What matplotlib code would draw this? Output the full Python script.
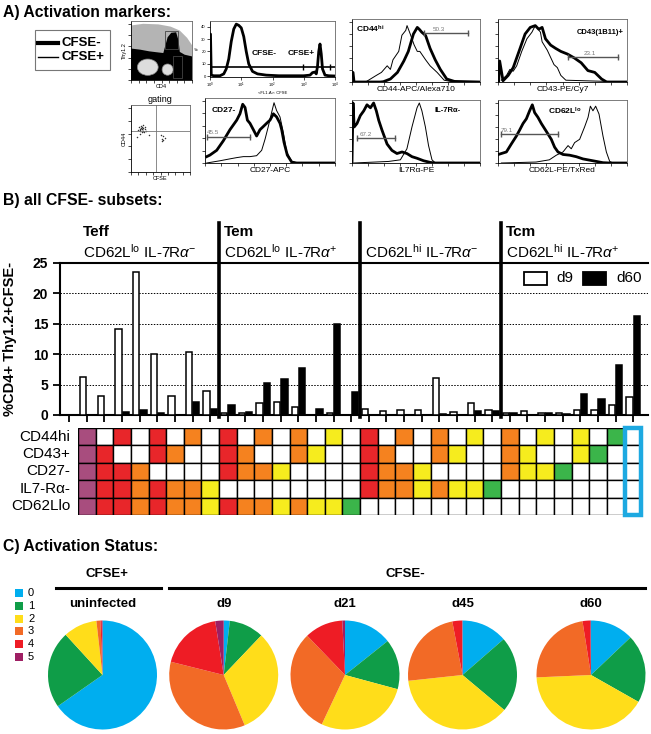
import matplotlib.pyplot as plt
import numpy as np
from matplotlib.patches import Ellipse, Polygon, Rectangle

plt.rcParams["font.family"] = ["Liberation Sans", "DejaVu Sans"]
plt.rcParams["mathtext.fontset"] = "custom"
plt.rcParams["mathtext.rm"] = "Liberation Sans"
plt.rcParams["mathtext.it"] = "Liberation Sans:italic"
plt.rcParams["mathtext.bf"] = "Liberation Sans:bold"

W, H = 651, 734

# ---- panel A: flow traces, x and y in % of each small panel ----
cfse_x = [0, 0.4, 1, 3, 8, 11, 13, 15, 17, 19, 21, 23, 25, 27, 29, 31, 34, 38, 45,
          55, 65, 75, 80, 82, 84, 85, 86, 87, 88, 89, 90, 92, 95, 100]
cfse_y = [34, 34, 1, 0.5, 0.5, 2, 6, 14, 28, 38, 42, 41, 39, 32, 20, 10, 4, 2, 1,
          0.5, 0.5, 0.5, 1, 3, 3.5, 2, 8, 20, 26, 18, 6, 1, 0.5, 0.3]

thy_dense_x = [0, 0, 15, 30, 45, 53, 56, 60, 66, 74, 78, 80, 88, 100, 100]
thy_dense_y = [0, 56, 54, 51, 49, 48, 60, 76, 84, 85, 70, 50, 45, 42, 0]
thy_sparse_x = [0, 0, 20, 45, 65, 80, 92, 100, 100, 56, 30]
thy_sparse_y = [50, 97, 100, 99, 95, 88, 75, 62, 40, 46, 50]

gating_x = [12, 14, 15, 16, 17, 18, 18, 19, 20, 21, 22, 23, 15, 20, 25, 50, 52, 54, 55, 57, 53, 10, 30,
            16, 19, 21, 17, 24]
gating_y = [66, 70, 64, 68, 72, 63, 67, 70, 65, 69, 62, 67, 60, 74, 64, 58, 52, 56, 50, 54, 48, 55, 58,
            66, 68, 64, 69, 70]

cd44_thin_x = [0, 11, 19, 23, 27.5, 30, 32, 36.5, 39, 42, 43, 45.5, 48.5, 51, 53, 57.5, 61, 66.5, 72, 79.5, 100]
cd44_thin_y = [0, 0.5, 11, 16, 27, 21, 37, 51, 78, 86, 94, 80, 62, 51, 51, 37, 27, 16, 3, 0, 0]
cd44_thick_x = [0, 0.8, 1.6, 22, 24.5, 30, 35.5, 40.5, 44, 48, 51, 52.5, 54.5, 57.5, 61, 65, 69, 74, 80, 100]
cd44_thick_y = [16, 16, 0, 0, 0.5, 5, 16, 35, 51, 80, 91, 88, 83, 77.5, 56, 37, 21, 5, 1, 0]

cd43_thin_x = [2.6, 6.6, 9.2, 11.8, 14.5, 18.4, 22.4, 26.3, 28.9, 32.9, 34.2, 38.2, 43.4, 46, 48.7, 52.6, 100]
cd43_thin_y = [3, 11, 21, 18, 27, 51, 72, 83, 94, 83, 67, 53, 29, 24, 11, 3, 0]
cd43_thick_x = [0.5, 1.3, 3.9, 7.9, 11.8, 17.1, 21, 25, 28.9, 31.6, 34.2, 36.8, 40.8, 44.7, 48.7, 53.9,
                59.2, 64.5, 69.7, 75, 80.3, 84.2, 100]
cd43_thick_y = [0, 35, 2, 11, 24, 56, 80, 91, 94, 88, 91, 72, 61.5, 56, 51, 46.5, 40, 32, 19, 16, 5, 0, 0]

cd27_thick_x = [1.3, 3.8, 9, 14.1, 19.2, 24.4, 26.9, 29, 30.8, 32.6, 34.6, 37.2, 39.7, 42.3, 44.9, 47.4,
                50, 52.6, 55.1, 57.7, 59, 60.8, 63.3, 66.7, 70.5, 100]
cd27_thick_y = [10.3, 12.8, 20.5, 35.9, 53.8, 69.2, 79.5, 94.9, 89.7, 69.2, 64.1, 53.8, 43.6, 53.8, 59, 64.1,
                69.2, 79.5, 74.4, 64.1, 53.8, 33.3, 12.8, 1.5, 0, 0]
cd27_thin_x = [1.3, 11.5, 19.2, 24.4, 29.5, 34.6, 39.7, 43.6, 46.2, 48.7, 51.3, 53.1, 55.1, 57.7, 60.3,
               62.8, 66.7, 70.5, 100]
cd27_thin_y = [0, 3.6, 6.7, 8.7, 10.3, 10.3, 11.8, 20.5, 38.5, 59, 82, 97.4, 84.6, 74.4, 48.7, 18, 2.6, 0, 0]

il7_thick_x = [0, 0.8, 1.7, 3.9, 6.5, 9.2, 11.7, 14.4, 16.9, 19, 20.9, 23.4, 27.4, 31.2, 35.1, 39.1,
               42.9, 46.9, 50.8, 56, 61.2, 65.1, 100]
il7_thick_y = [0, 100, 60, 65.8, 79, 87, 97, 92, 100, 87, 71, 55, 31.6, 21, 15.8, 18.4, 15.8, 10.5, 7.9,
               3.7, 1, 0, 0]
il7_thin_x = [1.3, 28.6, 37.8, 42.9, 46.9, 50.8, 52.6, 54.6, 57.3, 59.8, 62.5, 65.1, 100]
il7_thin_y = [0, 2.6, 5.3, 23.7, 60.5, 92, 100, 87, 60.5, 29, 5.3, 0, 0]

cd62l_thick_x = [0, 2.6, 6.5, 10.3, 14.2, 16.8, 19.4, 22, 24.5, 26.6, 28.4, 31, 33.6, 37.5, 41.3, 43.9,
                 46.5, 50.4, 55.6, 60.7, 65.9, 73.6, 81.4, 86.6, 100]
cd62l_thick_y = [14, 15.8, 18.4, 31.6, 44.7, 55, 65.8, 73.7, 87, 97, 84, 76, 65.8, 52.6, 39.5, 26.3,
                 18.4, 14.2, 13, 10.5, 6.8, 3.7, 0.5, 0, 0]
cd62l_thin_x = [2.6, 29.5, 39.8, 45.2, 50.4, 54.3, 56.8, 59.4, 63.3, 67.2, 69.8, 71.6, 73.6, 75.7,
                78.3, 81.4, 84, 86.6, 89.1, 100]
cd62l_thin_y = [0, 1.6, 5.3, 13, 18.4, 29, 23.7, 34, 39.5, 60.5, 76, 94.7, 87, 94.7, 81.6, 44.7,
                18.4, 2.6, 0, 0]

# ---- panel B: 32 marker combinations, d9 vs d60 ----
d9_values = [6.2, 3.2, 14.2, 23.5, 10.0, 3.2, 10.3, 4.0,
             0.4, 0.4, 1.9, 2.1, 1.3, 0.0, 0.3, 0.0,
             1.0, 0.7, 0.9, 0.9, 6.1, 0.5, 2.0, 0.9,
             0.4, 0.7, 0.3, 0.3, 0.9, 0.9, 1.6, 2.9]
d60_values = [0.0, 0.0, 0.5, 0.8, 0.4, 0.0, 2.2, 1.0,
              1.6, 0.5, 5.2, 5.9, 7.7, 1.0, 15.0, 3.8,
              0.0, 0.0, 0.0, 0.0, 0.1, 0.0, 0.65, 0.6,
              0.3, 0.0, 0.3, 0.2, 3.5, 2.7, 8.2, 16.3]
marker_names = ["CD44hi", "CD43+", "CD27-", "IL7-R\u03b1-", "CD62Llo"]
marker_pattern = [
    "10101010101010101010101010101010",
    "11001100110011001100110011001100",
    "11110000111100001111000011110000",
    "11111111000000001111111100000000",
    "11111111111111110000000000000000",
]
group_names = ["Teff", "Tem", "", "Tcm"]
group_phenotypes = [r"CD62L$^{\rm lo}$ IL-7R$\alpha^{-}$", r"CD62L$^{\rm lo}$ IL-7R$\alpha^{+}$",
                    r"CD62L$^{\rm hi}$ IL-7R$\alpha^{-}$", r"CD62L$^{\rm hi}$ IL-7R$\alpha^{+}$"]

# ---- panel C: number of activation markers ----
activation_levels = ["0", "1", "2", "3", "4", "5"]
pie_titles = ["uninfected", "d9", "d21", "d45", "d60"]
pie_uninfected = [65.3, 22.9, 10.0, 1.2, 0.4, 0.2]
pie_d9 = [1.8, 10.3, 31.6, 35.2, 18.6, 2.5]
pie_d21 = [14.3, 14.9, 27.8, 30.8, 11.4, 0.8]
pie_d45 = [13.6, 22.5, 37.2, 23.7, 2.9, 0.1]
pie_d60 = [12.9, 20.3, 41.1, 23.2, 2.3, 0.2]

pie_colors = ["#00AEEF", "#0F9D48", "#FFDD1A", "#F26A26", "#EE1C25", "#9E1F63"]
grid_colors = ["white", "#3BB54A", "#F6EC1E", "#F5821F", "#E8262A", "#A84D7E"]

fig = plt.figure(figsize=(W / 100, H / 100), dpi=100)


def box(x0, y0, x1, y1):
    return [x0 / W, 1 - y1 / H, (x1 - x0) / W, (y1 - y0) / H]


ov = fig.add_axes([0, 0, 1, 1], zorder=-1)
ov.set_xlim(0, W)
ov.set_ylim(H, 0)
ov.axis("off")

title_kw = dict(fontsize=11.3, fontweight="bold", va="center", ha="left")
ov.text(3, 13, "A) Activation markers:", **title_kw)
ov.text(3, 201, "B) all CFSE- subsets:", **title_kw)
ov.text(3, 546, "C) Activation Status:", **title_kw)

# legend of panel A
ov.add_patch(Rectangle((35, 30), 75, 40, fill=False, ec="#777777", lw=0.8))
ov.plot([38, 58], [42.7, 42.7], color="black", lw=3)
ov.plot([38, 58], [57.3, 57.3], color="black", lw=1)
ov.text(61, 42.7, "CFSE-", fontsize=9.5, fontweight="bold", va="center")
ov.text(61, 57.3, "CFSE+", fontsize=9.5, fontweight="bold", va="center")


def flow_axes(x0, y0, x1, y1):
    ax = fig.add_axes(box(x0, y0, x1, y1))
    for sp in ax.spines.values():
        sp.set_linewidth(0.6)
        sp.set_color("#666666")
    ax.spines["left"].set_color("black")
    ax.spines["bottom"].set_color("black")
    ax.tick_params(length=2, width=0.5, labelleft=False, labelbottom=False, pad=1)
    ax.set_xlim(0, 100)
    ax.set_ylim(0, 105)
    ax.set_xticks(np.arange(0, 101, 12.5))
    ax.set_yticks(np.arange(0, 101, 20))
    return ax


def histogram(ax, thick_x, thick_y, thin_x, thin_y, gate_x, gate_y, label, label_x, xlabel):
    ax.plot(thin_x, thin_y, color="black", lw=0.7)
    ax.plot(thick_x, thick_y, color="black", lw=2.0)
    ax.plot(gate_x, [gate_y, gate_y], color="#555555", lw=1.0, marker="|", ms=4, mew=1)
    ax.text(label_x, gate_y + 2, label, fontsize=4.5, color="#777777", ha="center", va="bottom")
    ax.set_xlabel(xlabel, fontsize=6, labelpad=1)


# Thy1.2 / CD4 dot plot
ax = flow_axes(131, 21, 192, 80)
ax.add_patch(Polygon(list(zip(thy_sparse_x, thy_sparse_y)), color="#b4b4b4", lw=0))
ax.add_patch(Polygon(list(zip(thy_dense_x, thy_dense_y)), color="black", lw=0))
ax.add_patch(Ellipse((27.5, 22.8), 34, 29, fc="#dddddd", ec="#888888", lw=0.5))
ax.add_patch(Ellipse((60, 18.5), 18, 20, fc="#dddddd", ec="#888888", lw=0.5))
ax.add_patch(Rectangle((55.3, 56), 21.7, 31, fill=False, ec="#444444", lw=0.6))
ax.add_patch(Rectangle((69, 3), 14, 39, fill=False, ec="#444444", lw=0.6))
ax.set_ylabel("Thy1.2", fontsize=4, labelpad=1)
ax.set_xlabel("CD4", fontsize=4, labelpad=1)

# CFSE histogram
ax = flow_axes(210, 21, 335, 77)
ax.plot(cfse_x, cfse_y, color="black", lw=2.0)
ax.plot([0, 100], [7.5, 7.5], color="black", lw=1.2)
ax.plot([74.5, 96], [7.5, 7.5], ls="none", marker="|", ms=5, mew=1, color="black")
ax.text(33, 18.7, "CFSE-", fontsize=6, fontweight="bold", va="center")
ax.text(62, 18.7, "CFSE+", fontsize=6, fontweight="bold", va="center")
ax.set_ylim(-0.5, 44.5)
ax.set_yticks([0, 10, 20, 30, 40])
ax.set_xticks([0, 25, 50, 75, 100])
ax.set_xticklabels(["$10^0$", "$10^1$", "$10^2$", "$10^3$", "$10^4$"])
ax.tick_params(labelleft=True, labelbottom=True, labelsize=3)
ax.set_ylabel("#", fontsize=3.5, labelpad=1)
ax.set_xlabel("<FL1-A>: CFSE", fontsize=3, labelpad=0.5)

# CD44
ax = flow_axes(352, 19, 480, 82)
histogram(ax, cd44_thick_x, cd44_thick_y, cd44_thin_x, cd44_thin_y, [56, 91], 81.8, "50.3", 68,
          "CD44-APC/Alexa710")
ax.text(3.5, 88, r"CD44$^{\bf hi}$", fontsize=6, fontweight="bold", va="center")

# CD43
ax = flow_axes(498, 19, 627, 82)
histogram(ax, cd43_thick_x, cd43_thick_y, cd43_thin_x, cd43_thin_y, [54, 93.4], 41.2, "23.1", 71,
          "CD43-PE/Cy7")
ax.text(97, 82, "CD43(1B11)+", fontsize=5.5, fontweight="bold", va="center", ha="right")

# gating dot plot
ax = flow_axes(131, 105, 190, 172)
ax.axvline(42, color="#777777", lw=0.6)
ax.axhline(64, color="#777777", lw=0.6)
ax.scatter(gating_x, gating_y, s=1.2, color="#333333", lw=0)
ax.set_ylabel("CD44", fontsize=4, labelpad=1)
ax.set_xlabel("CFSE", fontsize=4, labelpad=1)
ax.set_title("gating", fontsize=6.5, pad=2)

# CD27
ax = flow_axes(205, 98, 335, 163)
histogram(ax, cd27_thick_x, cd27_thick_y, cd27_thin_x, cd27_thin_y, [1.3, 34.6], 42.6, "45.5", 6,
          "CD27-APC")
ax.text(5, 85, "CD27-", fontsize=6, fontweight="bold", va="center")

# IL-7Ra
ax = flow_axes(352, 100, 480, 163)
histogram(ax, il7_thick_x, il7_thick_y, il7_thin_x, il7_thin_y, [3.9, 33.9], 41, "67.2", 10.4,
          "IL7R\u03b1-PE")
ax.text(85, 87, "IL-7R\u03b1-", fontsize=5.5, fontweight="bold", va="center", ha="right")

# CD62L
ax = flow_axes(498, 100, 627, 163)
histogram(ax, cd62l_thick_x, cd62l_thick_y, cd62l_thin_x, cd62l_thin_y, [2.6, 46.5], 48.4, "79.1", 6.5,
          "CD62L-PE/TxRed")
ax.text(38.8, 86, r"CD62L$^{\bf lo}$", fontsize=6, fontweight="bold", va="center")

# ---- panel B bars ----
cols = np.arange(len(d9_values))
ax_bar = fig.add_axes(box(60, 263, 648, 415))
ax_bar.patch.set_alpha(0)
ax_bar.bar(cols - 0.2, d9_values, width=0.36, color="white", edgecolor="black", linewidth=1.1, zorder=3)
ax_bar.bar(cols + 0.21, d60_values, width=0.36, color="black", edgecolor="black", linewidth=1.1, zorder=3)
ax_bar.set_xlim(-1.52, 31.84)
ax_bar.set_ylim(0, 25)
for y in [5, 10, 15, 20]:
    ax_bar.axhline(y, color="black", lw=0.7, ls=(0, (1.5, 1.5)), zorder=1)
ax_bar.set_yticks([0, 5, 10, 15, 20, 25])
ax_bar.set_yticklabels(["0", "5", "10", "15", "20", "25"], fontweight="bold", fontsize=10)
ax_bar.set_xticks(np.arange(-1, 32))
ax_bar.set_xticklabels([])
ax_bar.tick_params(axis="both", width=1.3, length=5)
ax_bar.spines["right"].set_visible(False)
for side in ["left", "bottom", "top"]:
    ax_bar.spines[side].set_linewidth(1.5)
ax_bar.set_ylabel("%CD4+ Thy1.2+CFSE-", fontsize=10.5, fontweight="bold")
ax_bar.yaxis.set_label_coords((17 - 60) / 588, 0.5)

for g in range(4):
    start = g * 8 - 0.5
    if g > 0:
        ax_bar.plot([start, start], [-0.3, 31.6], color="black", lw=2.6, clip_on=False, zorder=4)
    ax_bar.text(start + 0.3, 30.1, group_names[g], fontsize=11, fontweight="bold", va="center")
    ax_bar.text(start + 0.3, 26.9, group_phenotypes[g], fontsize=11, va="center")

ax_bar.add_patch(Rectangle((0.789, 0.855), 0.039, 0.086, transform=ax_bar.transAxes,
                           fc="white", ec="black", lw=1.3, zorder=5))
ax_bar.text(0.845, 0.90, "d9", transform=ax_bar.transAxes, fontsize=11, va="center")
ax_bar.add_patch(Rectangle((0.889, 0.855), 0.039, 0.086, transform=ax_bar.transAxes,
                           fc="black", ec="black", lw=1.3, zorder=5))
ax_bar.text(0.947, 0.90, "d60", transform=ax_bar.transAxes, fontsize=11, va="center")

# ---- panel B marker grid ----
ax_grid = fig.add_axes(box(78, 428, 642, 515))
ax_grid.set_xlim(-0.5, 31.5)
ax_grid.set_ylim(5, 0)
ax_grid.axis("off")
for c in cols:
    n_pos = sum(int(row[c]) for row in marker_pattern)
    for r, row in enumerate(marker_pattern):
        color = grid_colors[n_pos] if row[c] == "1" else "white"
        ax_grid.add_patch(Rectangle((c - 0.5, r), 1, 1, fc=color, ec="black", lw=1))
ax_grid.add_patch(Rectangle((30.55, 0.02), 0.9, 4.96, fill=False, ec="#1DA9E1", lw=3.2, zorder=5,
                            clip_on=False))
for r, name in enumerate(marker_names):
    ax_grid.text(-0.95, r + 0.5, name, fontsize=11, ha="right", va="center")

# ---- panel C ----
ov.text(107, 574, "CFSE+", fontsize=9.5, fontweight="bold", ha="center", va="center")
ov.plot([56, 161], [588, 588], color="black", lw=2.2)
ov.text(405, 574, "CFSE-", fontsize=9.5, fontweight="bold", ha="center", va="center")
ov.plot([169, 645], [588, 588], color="black", lw=2.2)

for i, level in enumerate(activation_levels):
    y = 592.7 + i * 12.9
    ov.add_patch(Rectangle((15, y - 4), 8, 8, color=pie_colors[i], lw=0))
    ov.text(28, y, level, fontsize=8, va="center")

pie_values = [pie_uninfected, pie_d9, pie_d21, pie_d45, pie_d60]
pie_centers = [102.5, 223.7, 345, 462.5, 591]
r_px = 54.5
for cx, values, title in zip(pie_centers, pie_values, pie_titles):
    ax = fig.add_axes(box(cx - r_px, 675 - r_px, cx + r_px, 675 + r_px))
    ax.pie(values, colors=pie_colors, startangle=90, counterclock=False, radius=1,
           wedgeprops=dict(linewidth=0))
    ax.set_xlim(-1, 1)
    ax.set_ylim(-1, 1)
    ov.text(cx, 604, title, fontsize=9.5, fontweight="bold", ha="center", va="center")

fig.savefig("out.png", dpi=100)
